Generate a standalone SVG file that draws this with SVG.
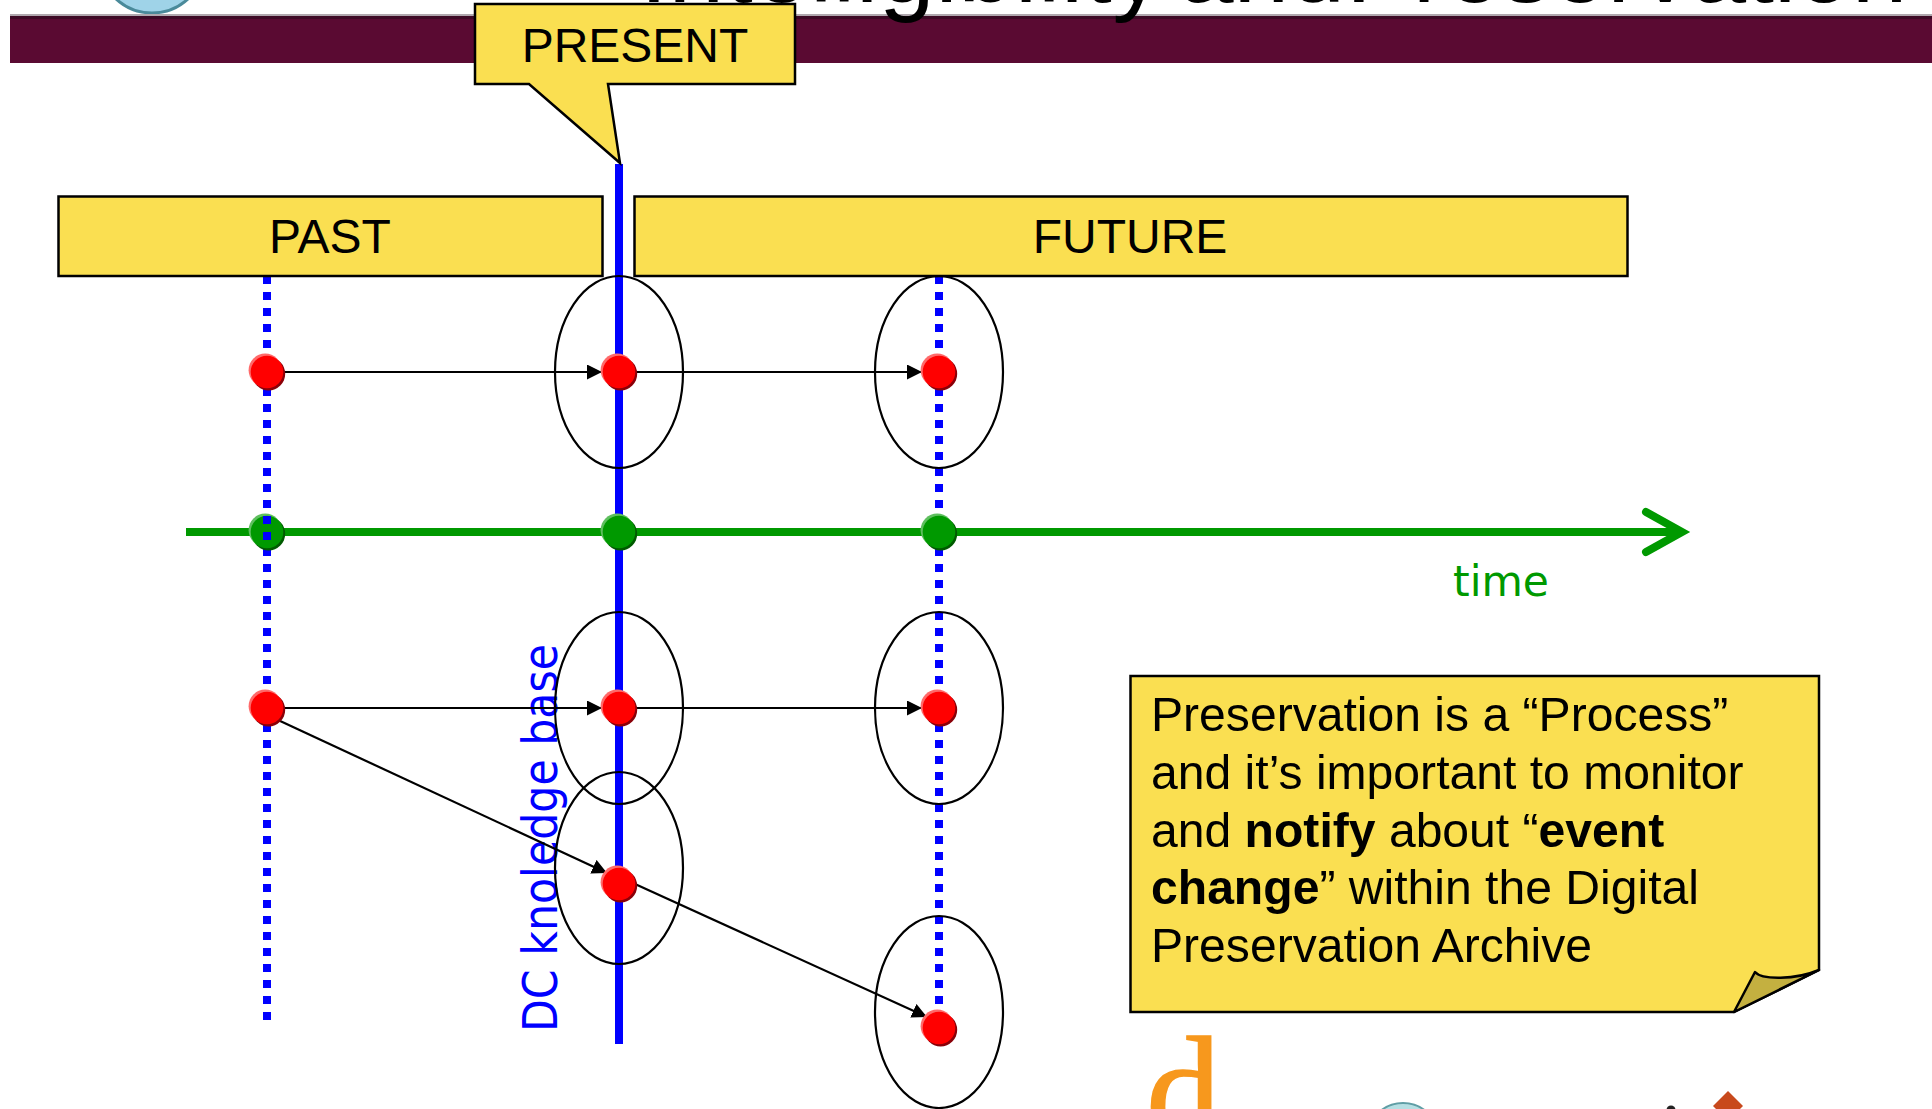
<svg xmlns="http://www.w3.org/2000/svg" xmlns:xlink="http://www.w3.org/1999/xlink" width="1932" height="1109" viewBox="0 0 1932 1109">
<style>
text{font-family:"Liberation Sans",Arial,sans-serif;fill:#000}
.box{fill:#fadf51;stroke:#000;stroke-width:2.5;stroke-linejoin:miter}
.lbl{font-size:48px;text-anchor:middle}
.note{font-size:48.1px}
.hand{font-family:"DejaVu Sans",sans-serif}
.dot{fill:none;stroke:#0000ff;stroke-width:8;stroke-dasharray:8 8}
.ring{fill:none;stroke:#000;stroke-width:2.2}
.arr{fill:none;stroke:#000;stroke-width:2.2;marker-end:url(#tri)}
</style>
<defs>
<marker id="tri" markerUnits="userSpaceOnUse" markerWidth="16" markerHeight="16" refX="15" refY="7.5" orient="auto"><path d="M0 0L15 7.5L0 15Z" fill="#000"/></marker>
<g id="red"><circle cx="1.6" cy="1.8" r="16.6" fill="#8a0008"/><circle cx="-1.8" cy="-1.8" r="16.6" fill="#ff6a6a"/><circle r="16.3" fill="#ff0000"/></g>
<g id="green"><circle cx="1.6" cy="1.8" r="16.6" fill="#005a00"/><circle cx="-1.8" cy="-1.8" r="16.6" fill="#5fbf5f"/><circle r="16.3" fill="#009900"/></g>
</defs>
<rect width="1932" height="1109" fill="#fff"/>
<g id="header">
<circle cx="152" cy="-40" r="53" fill="#9fd3e8" stroke="#4a8a9a" stroke-width="3"/>
<rect x="10" y="14" width="1922" height="2" fill="#b0a8ae"/>
<rect x="10" y="16" width="1922" height="47" fill="#5a0a32"/>
<rect x="10" y="16" width="1922" height="3" fill="#3e0a26"/>
<text id="title" x="640" y="2" font-size="100"><tspan letter-spacing="0.8">Intelligibility</tspan> <tspan x="1178">and</tspan> <tspan x="1346">Preservation</tspan></text>
</g>
<g id="logos">
<text x="1146" y="1141" font-size="150" style="font-family:'Liberation Serif',serif;fill:#f7981d;stroke:#f7981d;stroke-width:1.5">d</text>
<circle cx="1403" cy="1139" r="36" fill="#b5dfe3" stroke="#5f9ea5" stroke-width="2"/>
<circle cx="1671" cy="1110" r="4.5" fill="#222"/>
<path d="M1728 1091L1743 1106L1740 1109H1716L1713 1106Z" fill="#c8491c"/>
</g>
<g id="kb-label"><text class="hand" transform="translate(557,1032) rotate(-90)" font-size="48" textLength="388" lengthAdjust="spacingAndGlyphs" style="fill:#0000ff">DC knoledge base</text></g>
<g id="time-axis">
<path d="M186 532H1680" fill="none" stroke="#009900" stroke-width="8"/>
<path d="M1646 512L1682 532L1646 552" fill="none" stroke="#009900" stroke-width="8" stroke-linecap="round"/>
</g>
<g id="time-label"><text class="hand" x="1453" y="596" font-size="42" textLength="96" lengthAdjust="spacingAndGlyphs" style="fill:#009900">time</text></g>
<g id="present-line"><path d="M619 164V1044" fill="none" stroke="#0000ff" stroke-width="8"/></g>
<g id="past-line"><path class="dot" d="M267 276V1020"/></g>
<g id="future-line"><path class="dot" d="M939 276V1008"/></g>
<g id="dot-green-present"><use xlink:href="#green" href="#green" x="619" y="532"/></g>
<g id="dot-green-future"><use xlink:href="#green" href="#green" x="939" y="532"/></g>
<g id="dot-green-past"><use xlink:href="#green" href="#green" x="267" y="532"/><path class="dot" d="M267 516V548"/></g>
<g id="rings">
<ellipse class="ring" cx="619" cy="372" rx="64" ry="96"/>
<ellipse class="ring" cx="939" cy="372" rx="64" ry="96"/>
<ellipse class="ring" cx="619" cy="708" rx="64" ry="96"/>
<ellipse class="ring" cx="939" cy="708" rx="64" ry="96"/>
<ellipse class="ring" cx="619" cy="868" rx="64" ry="96"/>
<ellipse class="ring" cx="939" cy="1012" rx="64" ry="96"/>
</g>
<g id="connectors">
<path class="arr" d="M283 372H602"/>
<path class="arr" d="M636 372H922"/>
<path class="arr" d="M283 708H602"/>
<path class="arr" d="M636 708H922"/>
<path class="arr" d="M278 720L607 873"/>
<path class="arr" d="M635 884L927 1017"/>
</g>
<g id="n1"><use xlink:href="#red" href="#red" x="267" y="372"/></g>
<g id="n2"><use xlink:href="#red" href="#red" x="619" y="372"/></g>
<g id="n3"><use xlink:href="#red" href="#red" x="939" y="372"/></g>
<g id="n4"><use xlink:href="#red" href="#red" x="267" y="708"/></g>
<g id="n5"><use xlink:href="#red" href="#red" x="619" y="708"/></g>
<g id="n6"><use xlink:href="#red" href="#red" x="939" y="708"/></g>
<g id="n7"><use xlink:href="#red" href="#red" x="619" y="884"/></g>
<g id="n8"><use xlink:href="#red" href="#red" x="939" y="1028"/></g>
<g id="present"><path class="box" d="M475 4H795V84H608L620 163L529 84H475Z"/><text class="lbl" x="635" y="61.5">PRESENT</text></g>
<g id="past"><rect class="box" x="58.5" y="196.5" width="544" height="79.5"/><text class="lbl" x="330" y="253">PAST</text></g>
<g id="future"><rect class="box" x="634.5" y="196.5" width="993" height="79.5"/><text class="lbl" x="1130" y="253">FUTURE</text></g>
<g id="note">
<path class="box" d="M1130.5 676H1819V970L1734 1012H1130.5Z"/>
<path d="M1734 1012L1755 972C1762 980 1795 980 1819 970Z" fill="#c4b040" stroke="#000" stroke-width="2.5" stroke-linejoin="round"/>
<text class="note" x="1151" y="731">Preservation is a “Process”</text>
<text class="note" x="1151" y="789">and it’s important to monitor</text>
<text class="note" x="1151" y="847">and <tspan font-weight="700">notify</tspan> about “<tspan font-weight="700">event</tspan></text>
<text class="note" x="1151" y="904"><tspan font-weight="700">change</tspan>” within the Digital</text>
<text class="note" x="1151" y="962">Preservation Archive</text>
</g>
</svg>
